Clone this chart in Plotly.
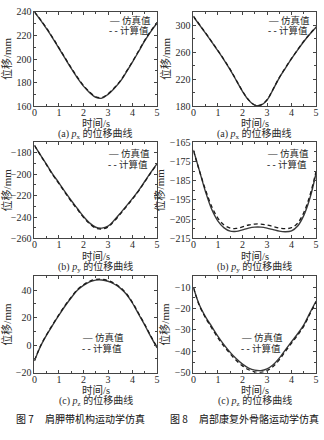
import plotly.graph_objects as go

# ---------------- data ----------------
time_s = [0, 0.25, 0.5, 0.75, 1, 1.25, 1.5, 1.75, 2, 2.25, 2.5, 2.75, 3, 3.25, 3.5, 3.75, 4, 4.25, 4.5, 4.75, 5]

# Fig.7 (left column)
fig7_px_sim = [240, 233, 225.5, 217.5, 209, 200.5, 192, 184, 177, 171.5, 167.5, 166.8, 170, 175, 181, 189, 197.5, 206.5, 215.5, 223.5, 230.5]
fig7_px_calc = [240, 233.3, 226, 218, 209.5, 201, 192.6, 184.6, 177.6, 172, 168, 167.3, 170.5, 175.5, 181.5, 189.5, 198, 207, 216, 224, 231]
fig7_py_sim = [-173, -182, -191, -200, -208, -216.5, -224.5, -232, -239.5, -245.5, -249.5, -250.3, -248.5, -243, -236.5, -229.5, -222.5, -215, -206.5, -198, -190]
fig7_py_calc = [-173, -182.3, -191.5, -200.6, -208.7, -217.2, -225.3, -232.8, -240.3, -246.3, -250.3, -251.1, -249.3, -243.8, -237.2, -230.2, -223.1, -215.5, -207, -198.4, -190.3]
fig7_pz_sim = [-11.5, -0.8, 7.5, 14.8, 21.8, 28.5, 34.5, 40, 43.5, 46, 47.3, 47.4, 46.5, 44.5, 41.5, 37, 30.5, 22.5, 14.5, 6, -2]
fig7_pz_calc = [-11.2, -0.5, 7.8, 15.2, 22.2, 29, 35, 40.4, 44, 46.5, 47.8, 47.9, 47, 45, 42, 37.5, 31, 23, 15, 6.5, -1.6]

# Fig.8 (right column)
fig8_px_sim = [313, 300.5, 288, 275, 262, 248.5, 234, 218, 202, 189, 181.5, 181.5, 189, 205, 222, 236.5, 250.5, 263.5, 276, 287, 297]
fig8_px_calc = [313.5, 301, 288.5, 275.5, 262.5, 249, 234.5, 218.5, 202.5, 189.5, 182, 182, 189.5, 205.5, 222.5, 237, 251, 264, 276.5, 287.5, 297.5]
fig8_py_sim = [-169, -180, -191, -200, -206, -209.5, -211.2, -211.3, -210.5, -209.6, -209.1, -209.1, -209.6, -210.4, -211.2, -211.5, -211, -208.5, -203, -194, -181]
fig8_py_calc = [-169.5, -180, -190, -198.5, -204.5, -208, -209.6, -209.8, -209, -208, -207.5, -207.5, -208, -208.8, -209.6, -209.9, -209.4, -207, -201.5, -192.5, -180]
fig8_pz_sim = [-10, -18.5, -24, -28.5, -33, -37, -40.5, -43.5, -46, -47.8, -48.8, -49, -48.2, -46.3, -43.2, -39.3, -35.5, -31.8, -27.6, -22, -16.5]
fig8_pz_calc = [-10.3, -18.8, -24.5, -29.2, -33.7, -37.7, -41.2, -44.3, -46.8, -48.6, -49.6, -49.8, -49, -47.1, -44, -40, -36.2, -32.4, -28.2, -22.5, -17]

x_ticks = [0, 1, 2, 3, 4, 5]
y_ranges = [[160, 240], [180, 320], [-260, -170], [-215, -165], [-20, 50], [-50, -5]]
y_ticks = [
    [160, 180, 200, 220, 240],
    [180, 220, 260, 300],
    [-260, -240, -220, -200, -180],
    [-215, -205, -195, -185, -175, -165],
    [-20, 0, 20, 40],
    [-50, -40, -30, -20, -10],
]
captions = [
    "(a) <i>p</i><sub>x</sub> 的位移曲线",
    "(a) <i>p</i><sub>x</sub> 的位移曲线",
    "(b) <i>p</i><sub>y</sub> 的位移曲线",
    "(b) <i>p</i><sub>y</sub> 的位移曲线",
    "(c) <i>p</i><sub>z</sub> 的位移曲线",
    "(c) <i>p</i><sub>z</sub> 的位移曲线",
]
series_sim = [fig7_px_sim, fig8_px_sim, fig7_py_sim, fig8_py_sim, fig7_pz_sim, fig8_pz_sim]
series_calc = [fig7_px_calc, fig8_px_calc, fig7_py_calc, fig8_py_calc, fig7_pz_calc, fig8_pz_calc]
legend_names = ["仿真值", "计算值"]
x_title = "时间/s"
y_title = "位移/mm"
fig_titles = ["图 7\u00a0\u00a0\u00a0\u00a0\u00a0肩胛带机构运动学仿真", "图 8\u00a0\u00a0\u00a0\u00a0\u00a0肩部康复外骨骼运动学仿真"]

# ---------------- layout helpers ----------------
W, H = 324, 440
col_px = [(32, 157), (194, 319)]
row_px = [(6, 103), (140, 239), (278, 377)]
# legend: x offset inside panel (px from panel left), y centres of the two rows (px from top)
legend_px = [(74, 14.5, 25.5), (73, 152, 163), (46, 341, 352)]

SERIF = "Liberation Serif, Noto Sans CJK SC, serif"
CJK = "Noto Sans CJK SC, sans-serif"
INK = "#2a2a2a"

fig = go.Figure()
layout = dict(
    width=W, height=H,
    margin=dict(l=0, r=0, t=0, b=0),
    paper_bgcolor="white", plot_bgcolor="white",
    showlegend=False,
    font=dict(family=SERIF, size=10, color=INK),
)
annotations = []

for i in range(6):
    r, c = divmod(i, 2)
    k = "" if i == 0 else str(i + 1)
    xa, ya = "x" + k, "y" + k
    x0, x1 = col_px[c]
    y0, y1 = row_px[r]
    fig.add_trace(go.Scatter(x=time_s, y=series_sim[i], mode="lines", name=legend_names[0],
                             line=dict(color="#3a3a3a", width=1.4, shape="spline"),
                             xaxis=xa, yaxis=ya))
    fig.add_trace(go.Scatter(x=time_s, y=series_calc[i], mode="lines", name=legend_names[1],
                             line=dict(color="#1a1a1a", width=1.3, dash="4px,3px", shape="spline"),
                             xaxis=xa, yaxis=ya))
    common = dict(showline=True, linecolor="#444", linewidth=1, mirror="ticks",
                  ticks="inside", ticklen=3, tickcolor="#444", showgrid=False, zeroline=False,
                  tickfont=dict(family=SERIF, size=10, color=INK))
    layout["xaxis" + k] = dict(
        common, domain=[x0 / W, x1 / W], anchor=ya, range=[0, 5], tickvals=x_ticks,
        ticklabelstandoff=-3,
        minor=dict(ticks="inside", ticklen=2, dtick=0.5, tickcolor="#444"),
    )
    step = y_ticks[i][1] - y_ticks[i][0]
    layout["yaxis" + k] = dict(
        common, domain=[1 - y1 / H, 1 - y0 / H], anchor=xa, range=y_ranges[i], tickvals=y_ticks[i],
        minor=dict(ticks="inside", ticklen=2, dtick=step / 2, tick0=y_ticks[i][0], tickcolor="#444"),
        title=dict(text=y_title, font=dict(family=SERIF, size=11, color=INK), standoff=2),
    )
    # x-axis title
    annotations.append(dict(text=x_title, xref=xa + " domain", yref="paper",
                            x=0.5, y=1 - (y1 + 17.5) / H, xanchor="center", yanchor="middle",
                            showarrow=False, font=dict(family=SERIF, size=10.5, color=INK)))
    # caption under each panel
    annotations.append(dict(text=captions[i], xref=xa + " domain", yref="paper",
                            x=0.5, y=1 - (y1 + 29) / H, xanchor="center", yanchor="middle",
                            showarrow=False, font=dict(family=SERIF, size=10, color=INK)))
    # legend text
    lx, ly1, ly2 = legend_px[r]
    annotations.append(dict(text="— " + legend_names[0], xref="paper", yref="paper",
                            x=(x0 + lx) / W, y=1 - ly1 / H, xanchor="left", yanchor="middle",
                            showarrow=False, font=dict(family=SERIF, size=9.5, color=INK)))
    annotations.append(dict(text="- - " + legend_names[1], xref="paper", yref="paper",
                            x=(x0 + lx) / W, y=1 - ly2 / H, xanchor="left", yanchor="middle",
                            showarrow=False, font=dict(family=SERIF, size=9.5, color=INK)))

annotations.append(dict(text=fig_titles[0], xref="paper", yref="paper", x=79 / W, y=1 - 424 / H,
                        xanchor="center", yanchor="middle",
                        showarrow=False, font=dict(family=CJK, size=10, color="#111")))
annotations.append(dict(text=fig_titles[1], xref="paper", yref="paper", x=246 / W, y=1 - 424 / H,
                        xanchor="center", yanchor="middle",
                        showarrow=False, font=dict(family=CJK, size=10, color="#111")))

layout["annotations"] = annotations
fig.update_layout(**layout)
fig.write_html("out.html")
